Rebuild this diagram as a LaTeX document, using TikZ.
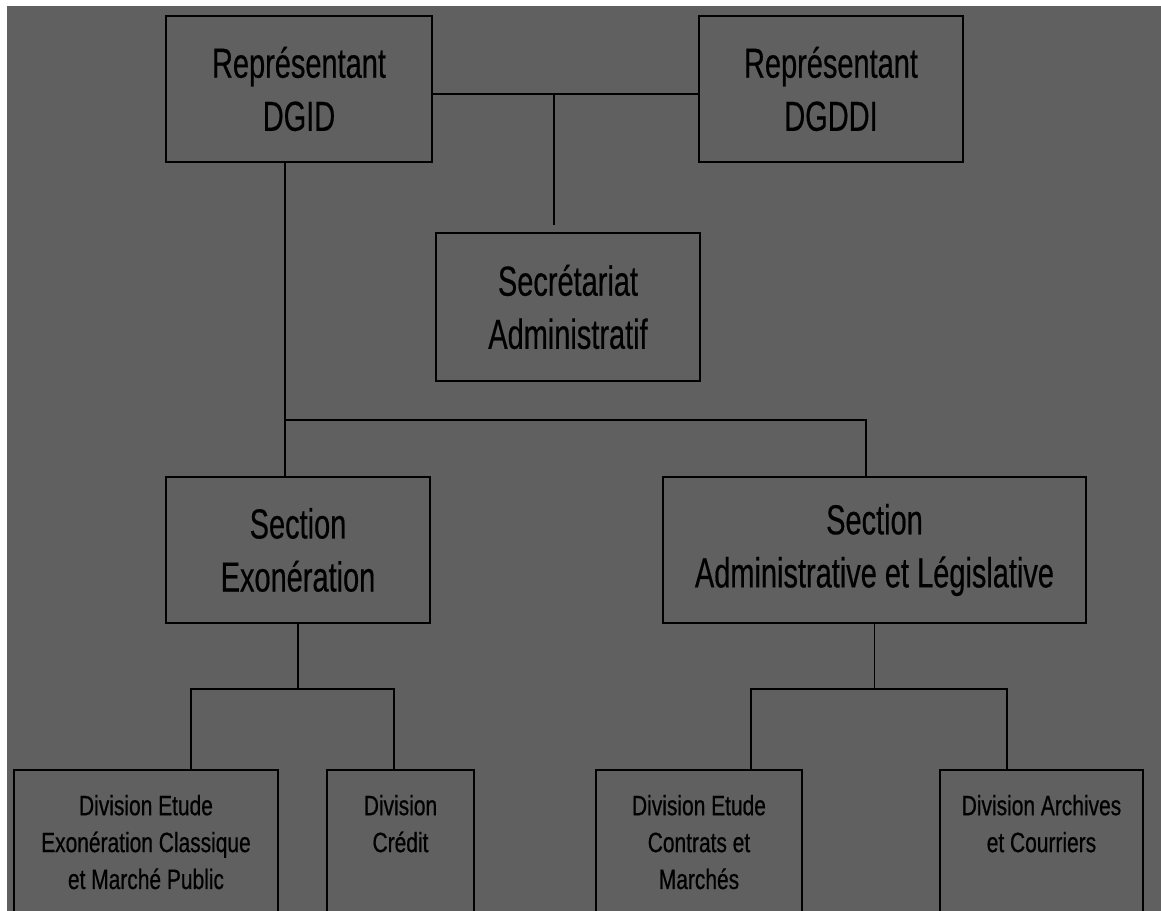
\documentclass[tikz,border=0pt]{standalone}
\usepackage{fontspec}
\newfontfamily\boxfont{Liberation Sans}[FakeStretch=0.69,FakeBold=0.4]
\newfontfamily\divfont{Liberation Sans}[FakeStretch=0.75,FakeBold=0.6]
\definecolor{bggray}{RGB}{96,96,96}
\tikzset{
  unit/.style={draw, line width=1.1pt, align=center, inner sep=0pt,
    font=\boxfont\fontsize{23.9}{30.2}\selectfont},
  divbox/.style={draw, line width=1.1pt, align=center, inner xsep=0pt, inner ysep=0.5cm,
    anchor=north, text depth=3cm, font=\divfont\fontsize{15.9}{21}\selectfont},
}

\begin{document}
\begin{tikzpicture}[x=0.02cm, y=-0.02cm, line width=1.1pt]
    \useasboundingbox (0,0) rectangle (1161,911);
    \fill[bggray] (7,6) rectangle (1161,911);
    \clip (7,6) rectangle (1161,911);

    % Representants
    \node[unit, minimum width=5.32cm, minimum height=2.92cm] (dgid) at (299,89) {Représentant\\DGID};
    \node[unit, minimum width=5.28cm, minimum height=2.92cm] (dgddi) at (831,89) {Représentant\\DGDDI};
    \node[unit, minimum width=5.28cm, minimum height=2.96cm] (secr) at (568,307) {Secrétariat\\Administratif};
    \draw ([yshift=-0.1cm]dgid.east) -- ([yshift=-0.1cm]dgddi.west);
    \coordinate (s1) at (554,94);
    \draw[shorten >=0.14cm] (s1) -- (s1 |- secr.north);

    % Sections
    \node[unit, minimum width=5.28cm, minimum height=2.92cm] (exo) at (298,550) {Section\\Exonération};
    \node[unit, minimum width=8.46cm, minimum height=2.92cm] (adm) at (874.5,550) {Section\\Administrative et Législative};
    \coordinate (j1) at (285,420);
    \coordinate (j2) at (866,420);
    \draw (dgid.south -| j1) -- (j1) -- (j2) -- (j2 |- adm.north);
    \draw (j1) -- (j1 |- exo.north);

    % Divisions
    \node[divbox, minimum width=5.28cm] (divexo) at (146,769) {Division Etude\\Exonération Classique\\et Marché Public};
    \node[divbox, minimum width=2.94cm] (credit) at (400.5,769) {Division\\Crédit};
    \node[divbox, minimum width=4.12cm] (contrats) at (699,769) {Division Etude\\Contrats et\\Marchés};
    \node[divbox, minimum width=4.06cm] (archives) at (1041.5,769) {Division Archives\\et Courriers};
    \coordinate (k1) at (191,689);
    \coordinate (k2) at (394,689);
    \draw (exo.south) -- (exo.south |- k1);
    \draw (k1 |- divexo.north) -- (k1) -- (k2) -- (k2 |- credit.north);
    \coordinate (m1) at (751,689);
    \coordinate (m2) at (1007,689);
    \draw (adm.south) -- (adm.south |- m1);
    \draw (m1 |- contrats.north) -- (m1) -- (m2) -- (m2 |- archives.north);
\end{tikzpicture}
\end{document}
